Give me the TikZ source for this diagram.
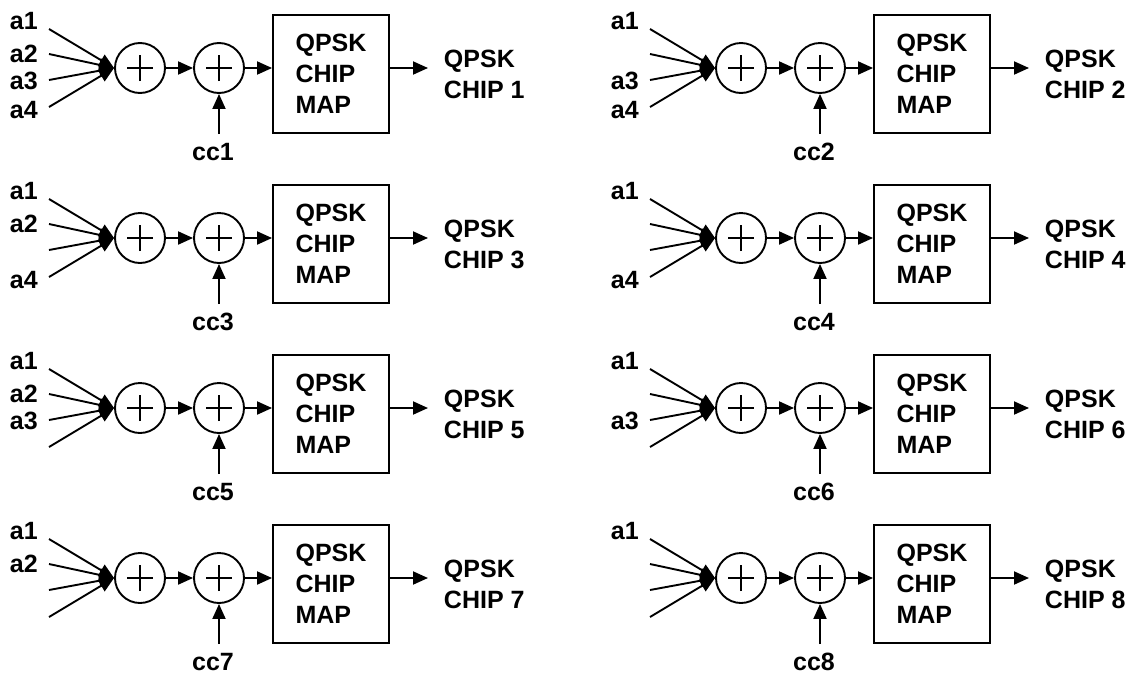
\documentclass[tikz,border=0pt]{standalone}
\usepackage{fontspec}
\setmainfont{Liberation Sans}
\usetikzlibrary{arrows.meta,positioning}
\tikzset{
  sum/.style={draw,circle,minimum size=50pt,inner sep=0pt,
    path picture={\draw ([xshift=-13pt]path picture bounding box.center) -- ([xshift=13pt]path picture bounding box.center)
      ([yshift=-13pt]path picture bounding box.center) -- ([yshift=13pt]path picture bounding box.center);}},
  mapbox/.style={draw,minimum width=116pt,minimum height=118pt,align=left,inner sep=0pt},
  lbl/.style={inner sep=0pt,align=left},
}

\begin{document}
\begin{tikzpicture}[x=1pt,y=-1pt,line width=1.9pt,>={Triangle[length=15pt,width=13pt]},
  every node/.style={font=\bfseries\fontsize{25}{31}\selectfont}]
  \useasboundingbox (0,0) rectangle (1139,675);

  \foreach \k/\col/\row/\labs in {1/0/0/{1/21,2/54,3/81,4/110}, 2/1/0/{1/21,3/81,4/110},
      3/0/1/{1/21,2/54,4/110}, 4/1/1/{1/21,4/110}, 5/0/2/{1/21,2/54,3/81},
      6/1/2/{1/21,3/81}, 7/0/3/{1/21,2/54}, 8/1/3/{1/21}} {
    \begin{scope}[shift={(601*\col,170*\row)}]
      \path
      (49,29) coordinate (in\k-1)
      (49,54) coordinate (in\k-2)
      (49,80) coordinate (in\k-3)
      (49,107) coordinate (in\k-4)
      (140,68) node[sum] (add\k) {}
      (219,68) node[sum] (mix\k) {}
      (331,74) node[mapbox] (map\k) {QPSK\\CHIP\\MAP}
      (428,68) coordinate (out\k)
      (443,74) node[lbl,anchor=west] (chip\k) {QPSK\\CHIP \k}
      (219,134) coordinate (ccin\k)
      (213,152) node[lbl] (cc\k) {cc\k}
      ;

      \foreach \i/\ly in \labs
        \node[lbl,anchor=west] (a\k-\i) at (9,\ly) {a\i};

      \foreach \i in {1,...,4}
        \draw[->] (in\k-\i) -- (add\k.west);
      \draw[->] (add\k) -- (mix\k);
      \draw[->] (mix\k) -- (mix\k -| map\k.west);
      \draw[->] (map\k.east |- out\k) -- (out\k);
      \draw[->] (ccin\k) -- (mix\k);
    \end{scope}
  }
\end{tikzpicture}
\end{document}
